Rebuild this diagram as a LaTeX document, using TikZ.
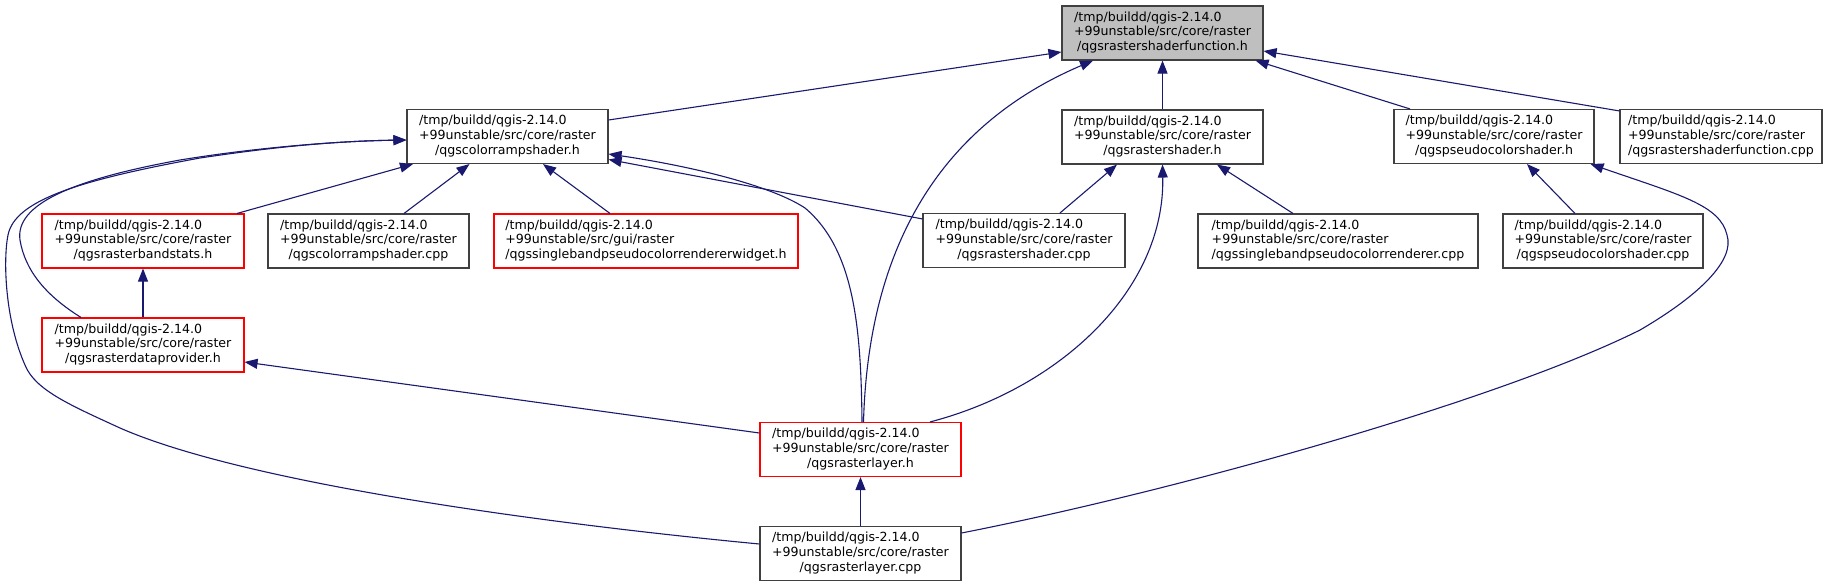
\documentclass[tikz,border=0pt]{standalone}
\usepackage{fontspec}
\setmainfont{DejaVu Sans}
\usetikzlibrary{arrows.meta}
\definecolor{edgeblue}{HTML}{191970}
\definecolor{rootfill}{HTML}{BFBFBF}
\definecolor{boxline}{HTML}{404040}
\newcommand\flabel[3]{\begin{tabular}{@{}l@{}}#1\\#2\\\multicolumn{1}{@{}c@{}}{#3}\end{tabular}}
\newcommand\fl[1]{\flabel{/tmp/buildd/qgis-2.14.0}{+99unstable/src/core/raster}{#1}}
\begin{document}
\begin{tikzpicture}[x=1pt,y=-1pt,
  filebox/.style={draw=boxline, line width=1.1pt, minimum height=54pt, inner sep=0pt, font=\fontsize{12.6}{14.6}\selectfont},
  redbox/.style={filebox, draw=red},
  dep/.style={draw=edgeblue, line width=1.1pt, -{Triangle[length=13pt,width=10pt]}},
]
\fill[white] (0,0) rectangle (1835,587);
\useasboundingbox (0,0) rectangle (1835,587);

\node[filebox, fill=rootfill, minimum width=201pt] (root) at (1162.5,33) {\fl{/qgsrastershaderfunction.h}};
\node[filebox, minimum width=201pt] (crs_h) at (507.5,136.5) {\fl{/qgscolorrampshader.h}};
\node[filebox, minimum width=201pt] (rs_h) at (1162.5,137) {\fl{/qgsrastershader.h}};
\node[filebox, minimum width=200pt] (pcs_h) at (1494,136.5) {\fl{/qgspseudocolorshader.h}};
\node[filebox, minimum width=202pt] (rsf_cpp) at (1721,136.5) {\fl{/qgsrastershaderfunction.cpp}};
\node[redbox, minimum width=202pt] (rbs_h) at (143,241) {\fl{/qgsrasterbandstats.h}};
\node[filebox, minimum width=201pt] (crs_cpp) at (368.5,241) {\fl{/qgscolorrampshader.cpp}};
\node[redbox, minimum width=304pt] (widget_h) at (646,241) {\flabel{/tmp/buildd/qgis-2.14.0}{+99unstable/src/gui/raster}{/qgssinglebandpseudocolorrendererwidget.h}};
\node[filebox, minimum width=202pt] (rs_cpp) at (1024,240.5) {\fl{/qgsrastershader.cpp}};
\node[filebox, minimum width=280pt] (sbpcr_cpp) at (1338,241) {\fl{/qgssinglebandpseudocolorrenderer.cpp}};
\node[filebox, minimum width=200pt] (pcs_cpp) at (1603,241) {\fl{/qgspseudocolorshader.cpp}};
\node[redbox, minimum width=202pt] (rdp_h) at (143,345) {\fl{/qgsrasterdataprovider.h}};
\node[redbox, minimum width=201pt] (rl_h) at (860.5,449.5) {\fl{/qgsrasterlayer.h}};
\node[filebox, minimum width=201pt] (rl_cpp) at (860.5,553.5) {\fl{/qgsrasterlayer.cpp}};

\draw[dep] ([yshift=16.5pt]crs_h.east) -- ([yshift=-19pt]root.west);
\draw[dep] ([xshift=3pt]rl_h.north) .. controls (868,260) and (930,130) .. ([xshift=-69.5pt]root.south);
\draw[dep] (rs_h.north) -- (root.south);
\draw[dep] ([xshift=-84pt]pcs_h.north) -- ([xshift=-8pt]root.south east);
\draw[dep] ([yshift=-2pt]rsf_cpp.north west) -- ([yshift=-18pt]root.east);
\draw[dep] ([xshift=94pt]rbs_h.north) -- ([xshift=-94.5pt]crs_h.south);
\draw[dep] ([xshift=35.5pt]crs_cpp.north) -- ([xshift=-38pt]crs_h.south);
\draw[dep] ([xshift=-36pt]widget_h.north) -- ([xshift=35.5pt]crs_h.south);
\draw[dep] ([yshift=-6pt]rs_cpp.north west) -- ([yshift=-23pt]crs_h.east);
\draw[dep] ([xshift=1.5pt]rl_h.north) .. controls (861,330) and (855,250) .. (805,208) .. controls (770,185) and (690,166) .. ([yshift=-17.5pt]crs_h.east);
\draw[dep] ([xshift=-62pt]rdp_h.north) .. controls (45,295) and (25,270) .. (20,240) .. controls (15,205) and (70,180) .. (180,160) .. controls (260,147) and (340,141) .. ([yshift=-3.5pt]crs_h.west);
\draw[dep] ([yshift=9.5pt]rl_cpp.west) .. controls (560,525) and (250,485) .. (120,428) .. controls (70,405) and (35,390) .. (25,365) .. controls (5,320) and (3,260) .. (8,235) .. controls (15,200) and (80,180) .. (200,158) .. controls (280,146) and (340,141) .. ([yshift=-3.5pt]crs_h.west);
\draw[dep] (rdp_h.north) -- (rbs_h.south);
\draw[dep] ([yshift=16.5pt]rl_h.west) -- ([yshift=-17pt]rdp_h.east);
\draw[dep] ([xshift=36pt]rs_cpp.north) -- ([xshift=-45.5pt]rs_h.south);
\draw[dep] ([xshift=69.5pt]rl_h.north) .. controls (1060,388) and (1165,290) .. (rs_h.south);
\draw[dep] ([xshift=-45pt]sbpcr_cpp.north) -- ([xshift=54.5pt]rs_h.south);
\draw[dep] ([xshift=-28pt]pcs_cpp.north) -- ([xshift=33pt]pcs_h.south);
\draw[dep] ([yshift=20.5pt]rl_cpp.east) .. controls (1180,490) and (1500,400) .. (1640,330) .. controls (1700,295) and (1735,260) .. (1727,235) .. controls (1720,205) and (1680,195) .. ([xshift=-4pt]pcs_h.south east);
\draw[dep] (rl_cpp.north) -- (rl_h.south);
\end{tikzpicture}
\end{document}
